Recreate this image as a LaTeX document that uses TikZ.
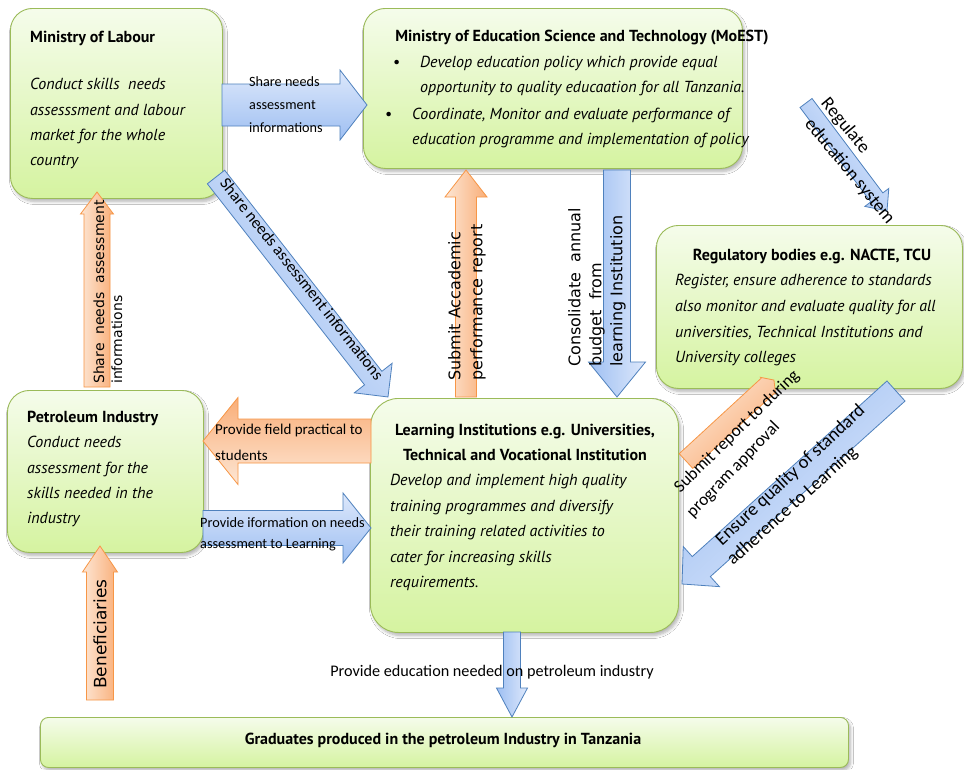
\documentclass[tikz,border=0pt]{standalone}
\usepackage{fontspec}
\setmainfont{PT Sans}
\newfontfamily\lblfont{Carlito}
\newfontfamily\dvfont{DejaVu Sans}
\usetikzlibrary{shadows.blur}
\definecolor{boxedge}{HTML}{9BBB59}
\definecolor{boxtop}{HTML}{F5FCEB}
\definecolor{boxbot}{HTML}{D5F3A0}
\definecolor{bluedge}{HTML}{4F81BD}
\definecolor{blulight}{HTML}{DDE8FB}
\definecolor{bludark}{HTML}{9EBFF2}
\definecolor{orgedge}{HTML}{F79646}
\definecolor{orglight}{HTML}{FDE6D4}
\definecolor{orgdark}{HTML}{F9AE78}
\newcommand\blockarrow[6]{%
  \path let \p1=(#2), \p2=(#3) in \pgfextra{%
    \pgfmathsetmacro\tmpA{atan2(\y2-\y1,\x2-\x1)}\xdef\gAng{\tmpA}%
    \pgfmathsetmacro\tmpL{veclen(\x2-\x1,\y2-\y1)}\xdef\gLen{\tmpL}%
    \pgfmathsetmacro\tmpX{\x1}\xdef\gX{\tmpX}%
    \pgfmathsetmacro\tmpY{\y1}\xdef\gY{\tmpY}};
  \pgfmathsetmacro\gBase{\gLen-#6}%
  \begin{scope}[shift={(\gX pt,\gY pt)},rotate=\gAng]
    \path[#1, shading angle=\gAng] (0pt,-#4pt) -- (\gBase pt,-#4pt) -- (\gBase pt,-#5pt) -- (\gLen pt,0pt)
      -- (\gBase pt,#5pt) -- (\gBase pt,#4pt) -- (0pt,#4pt) -- cycle;
  \end{scope}}
\begin{document}
\begin{tikzpicture}[x=1pt,y=-1pt,
  gbox/.style={draw=boxedge, line width=0.9pt, top color=boxtop, bottom color=boxbot,
    inner sep=0pt, anchor=north west, rounded corners=22pt,
    blur shadow={shadow xshift=2pt, shadow yshift=-3pt, shadow opacity=30, shadow blur steps=6, shadow blur radius=3pt}},
  barrow/.style={draw=bluedge, line width=0.8pt, top color=blulight, bottom color=bludark},
  oarrow/.style={draw=orgedge, line width=0.8pt, top color=orglight, bottom color=orgdark},
  btxt/.style={inner sep=0pt, font=\fontsize{16}{25.3}\selectfont, align=left, anchor=north west},
  ttl/.style={inner sep=0pt, font=\fontsize{16}{25}\selectfont\bfseries},
  lbl/.style={inner sep=0pt, align=left, anchor=north west},
  dlbl/.style={inner sep=0pt},
  vlbl/.style={inner sep=0pt, rotate=90, align=left, anchor=west}
]
\fill[white] (0,0) rectangle (964,769);
\path[use as bounding box] (0,0) rectangle (964,769);

% boxes
\node[gbox, minimum width=212pt, minimum height=190pt] (lab) at (10,8) {};
\node[gbox, minimum width=379pt, minimum height=160pt] (moest) at (363,8) {};
\node[gbox, minimum width=306pt, minimum height=163pt] (reg) at (656,225) {};
\node[gbox, minimum width=196pt, minimum height=162pt] (pet) at (7,390) {};
\node[gbox, minimum width=308pt, minimum height=234pt, rounded corners=28pt] (learn) at (370,398) {};
\node[gbox, minimum width=808pt, minimum height=50pt, rounded corners=8pt] (grad) at (40,717) {};

% box texts
\node[ttl, anchor=north west] (labT) at (30,31.3) {Ministry of Labour};
\node[btxt] (labB) at (30,78.3) {\itshape Conduct skills\ \ needs\\\itshape assesssment and labour\\\itshape market for the whole\\\itshape country};

\node[ttl, anchor=north] (moT) at (582,30.3) {Ministry of Education Science and Technology (MoEST)};
\node[btxt, font=\fontsize{16}{25}\selectfont] (moB) at (385,56.3) {%
  \hspace*{8pt}\makebox[27pt][l]{\textbullet}\textit{Develop education policy which provide equal}\\
  \hspace*{35pt}\textit{opportunity to quality educaation for all Tanzania.}\\[2pt]
  \makebox[27pt][l]{\textbullet}\textit{Coordinate, Monitor and evaluate performance of}\\
  \hspace*{27pt}\textit{education programme and implementation of policy}};

\node[ttl, anchor=north] (regT) at (812,249.3) {Regulatory bodies e.g. NACTE, TCU};
\node[btxt, font=\fontsize{16}{25.7}\selectfont] (regB) at (675,274.3) {\itshape Register, ensure adherence to standards\\\itshape also monitor and evaluate quality for all\\\itshape universities, Technical Institutions and\\\itshape University colleges};

\node[ttl, anchor=north west] (petT) at (27,411.3) {Petroleum Industry};
\node[btxt] (petB) at (27,436.3) {\itshape Conduct needs\\\itshape assessment for the\\\itshape skills needed in the\\\itshape industry};

\node[ttl, anchor=north, align=center] (learnT) at (525,424.3) {Learning Institutions e.g. Universities,\\Technical and Vocational Institution};
\node[btxt, font=\fontsize{16}{25.5}\selectfont] (learnB) at (390,474.3) {\itshape Develop and implement high quality\\\itshape training programmes and diversify\\\itshape their training related activities to\\\itshape cater for increasing skills\\\itshape requirements.};

\node[ttl] (gradT) at (443,740) {Graduates produced in the petroleum Industry in Tanzania};

% arrow end points
\coordinate (aS) at (222,105);  \coordinate (aE) at (367,105);
\coordinate (bS) at (216,177);  \coordinate (bE) at (388,397);
\coordinate (cS) at (466,397);  \coordinate (cE) at (466,170);
\coordinate (dS) at (617,170);  \coordinate (dE) at (617,397);
\coordinate (eS) at (806,103);  \coordinate (eE) at (887,211);
\coordinate (fS) at (896,391);  \coordinate (fE) at (682,584);
\coordinate (gS) at (686,461);  \coordinate (gE) at (774,380);
\coordinate (hS) at (97,387);   \coordinate (hE) at (97,192);
\coordinate (iS) at (371,441);  \coordinate (iE) at (203,441);
\coordinate (jS) at (203,528);  \coordinate (jE) at (371,528);
\coordinate (kS) at (512,632);  \coordinate (kE) at (512,717);
\coordinate (lS) at (100,700);  \coordinate (lE) at (100,546);

\blockarrow{barrow}{aS}{aE}{21}{35}{27}
\blockarrow{barrow}{bS}{bE}{11}{24}{24}
\blockarrow{oarrow}{cS}{cE}{10.5}{21}{27}
\blockarrow{barrow}{dS}{dE}{13.5}{28.5}{35}
\blockarrow{barrow}{eS}{eE}{7.5}{15}{17}
\blockarrow{barrow}{fS}{fE}{13.5}{27}{26}
\blockarrow{oarrow}{gS}{gE}{10}{11}{8}
\blockarrow{oarrow}{hS}{hE}{13}{16.5}{22}
\blockarrow{oarrow}{iS}{iE}{22}{43.5}{35}
\blockarrow{barrow}{jS}{jE}{17.5}{35}{28}
\blockarrow{barrow}{kS}{kE}{8.5}{15.5}{29}
\blockarrow{oarrow}{lS}{lE}{13.5}{17.5}{26}

% arrow labels
\node[lbl, font=\lblfont\fontsize{14.2}{23}\selectfont] (aL) at (249,76.5) {Share needs\\assessment\\informations};
\node[dlbl, rotate=-51.6, font=\lblfont\fontsize{16.5}{20}\selectfont] (bL) at (302,279) {Share needs assessment informations};
\node[vlbl, font=\dvfont\fontsize{16}{22}\selectfont] (cL) at (467,381) {Submit Accademic\\performance report};
\node[vlbl, font=\dvfont\fontsize{16}{21}\selectfont] (dL) at (597,367) {Consolidate\ \ annual\\budget\ \ from\\learning Institution};
\node[dlbl, rotate=-50.5, font=\lblfont\fontsize{18.5}{22}\selectfont] (eL1) at (845,126) {Regulate};
\node[dlbl, rotate=-50.5, font=\lblfont\fontsize{18.5}{22}\selectfont] (eL2) at (849.5,171.5) {education system};
\node[dlbl, rotate=43, font=\lblfont\fontsize{18.5}{22}\selectfont] (fL1) at (790.5,475.5) {Ensure quality of standard};
\node[dlbl, rotate=42, font=\lblfont\fontsize{18.5}{22}\selectfont] (fL2) at (792.5,506) {adherence to Learning};
\node[dlbl, rotate=44.3, font=\lblfont\fontsize{17.4}{22}\selectfont] (gL1) at (737,431.5) {Submit report to during};
\node[dlbl, rotate=46, font=\lblfont\fontsize{17.4}{22}\selectfont] (gL2) at (733.5,470) {program approval};
\node[vlbl, font=\dvfont\fontsize{14}{18}\selectfont] (hL) at (108,384) {Share\ \ needs\ \ assessment\\informations};
\node[lbl, font=\lblfont\fontsize{15}{26}\selectfont] (iL) at (215,423.5) {Provide field practical to\\students};
\node[lbl, font=\lblfont\fontsize{14.3}{21}\selectfont] (jL) at (200,517) {Provide iformation on needs\\assessment to Learning};
\node[dlbl, font=\lblfont\fontsize{16.2}{20}\selectfont] (kL) at (492,672) {Provide education needed on petroleum industry};
\node[dlbl, rotate=90, font=\dvfont\fontsize{17}{20}\selectfont] (lL) at (100,634) {Beneficiaries};
\end{tikzpicture}
\end{document}
